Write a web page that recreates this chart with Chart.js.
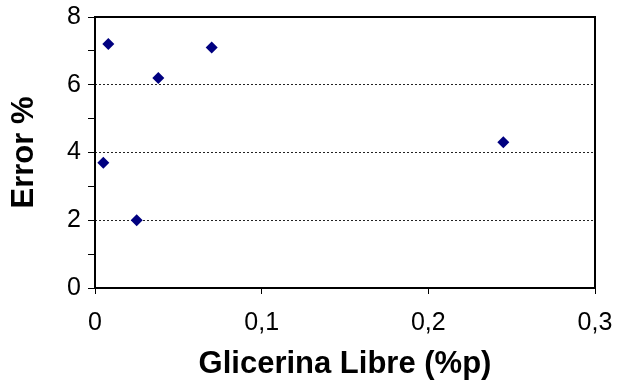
<!DOCTYPE html>
<html>
<head>
<meta charset="utf-8">
<script src="https://cdn.jsdelivr.net/npm/chart.js@4/dist/chart.umd.min.js"></script>
<style>
	html, body { margin: 0; padding: 0; background: #fff; }
</style>
</head>
<body>
<canvas id="chart" width="617" height="381"></canvas>
<script>
// Glicerina libre (%p) vs error (%)
const glicerina = [0.005, 0.008, 0.038, 0.070, 0.025, 0.245];
const errorPct = [3.7, 7.2, 6.2, 7.1, 2.0, 4.3];
const xTickLabels = ["0", "0,1", "0,2", "0,3"];
const yTickLabels = ["0", "2", "4", "6", "8"];

const FONT = "'Liberation Sans', Arial, sans-serif";

// marco completo alrededor del área de la gráfica
const frame = {
	id: "frame",
	afterDraw(chart) {
		const { ctx, chartArea: a } = chart;
		ctx.save();
		ctx.strokeStyle = "#000";
		ctx.lineWidth = 2;
		ctx.strokeRect(a.left, a.top, a.right - a.left, a.bottom - a.top);
		ctx.restore();
	},
};

new Chart(document.getElementById("chart").getContext("2d"), {
	type: "scatter",
	data: {
		datasets: [
			{
				data: glicerina.map((x, i) => ({ x: x, y: errorPct[i] })),
				pointStyle: "rectRot",
				pointRadius: 6,
				pointHoverRadius: 6,
				backgroundColor: "#000080",
				borderColor: "#000080",
				borderWidth: 0,
			},
		],
	},
	options: {
		responsive: false,
		animation: false,
		events: [],
		layout: { padding: { top: 17, right: 22, bottom: 0, left: 0 } },
		plugins: { legend: { display: false }, tooltip: { enabled: false } },
		scales: {
			x: {
				type: "linear",
				min: 0,
				max: 0.3,
				// alto fijo y sin reservar espacio extra para las etiquetas de los extremos
				afterFit: (s) => {
					s.height = 93;
					s.paddingLeft = 0;
					s.paddingRight = 0;
				},
				ticks: {
					stepSize: 0.1,
					color: "#000",
					padding: 14,
					maxRotation: 0,
					font: { family: FONT, size: 25 },
					callback: (v, i) => xTickLabels[i],
				},
				grid: {
					drawOnChartArea: false,
					drawTicks: true,
					tickLength: 6,
					tickColor: "#000",
					tickWidth: 1,
				},
				border: { display: false },
				title: {
					display: true,
					text: "Glicerina Libre (%p)",
					color: "#000",
					font: { family: FONT, size: 31, weight: "bold", lineHeight: 1 },
					padding: { top: 0, bottom: 1 },
				},
			},
			y: {
				min: 0,
				max: 8,
				afterFit: (s) => {
					s.width = 95;
					s.paddingTop = 0;
					s.paddingBottom = 0;
				},
				ticks: {
					stepSize: 1,
					color: "#000",
					padding: 7,
					font: { family: FONT, size: 25 },
					callback: (v) => (v % 2 === 0 ? yTickLabels[v / 2] : ""),
				},
				grid: {
					color: (c) => {
						const v = c.tick && c.tick.value;
						return v === 2 || v === 4 || v === 6 ? "#222" : "rgba(0,0,0,0)";
					},
					lineWidth: 1,
					tickLength: 7,
					tickColor: "#000",
					tickWidth: 1,
				},
				border: { display: false, dash: [2, 2] },
				title: {
					display: true,
					text: "Error %",
					color: "#000",
					font: { family: FONT, size: 31, weight: "bold", lineHeight: 1 },
					padding: { top: 9, bottom: 0 },
				},
			},
		},
	},
	plugins: [frame],
});
</script>
</body>
</html>
